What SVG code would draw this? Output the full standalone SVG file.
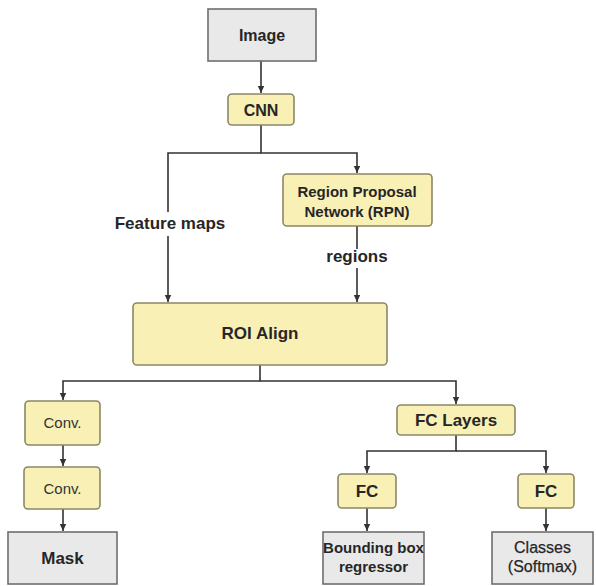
<svg xmlns="http://www.w3.org/2000/svg" width="596" height="586" viewBox="0 0 596 586">
<style>
.y{fill:#f9f0b6;stroke:#8c8766;stroke-width:1.6}
.g{fill:#e9e9e9;stroke:#6e6e6e;stroke-width:1.6}
.t{font-family:"Liberation Sans",Arial,sans-serif;font-weight:bold;fill:#262626;text-anchor:middle}
.n{font-weight:normal;stroke:#262626;stroke-width:0.25}
.r{font-weight:normal;fill:#333}
.c{fill:none;stroke:#333;stroke-width:1.6}
</style>
<defs>
<marker id="a" markerUnits="userSpaceOnUse" markerWidth="8" markerHeight="8" refX="7" refY="4" orient="auto">
<path d="M0,0.8 L7,4 L0,7.2 z" fill="#333"/>
</marker>
</defs>
<rect width="596" height="586" fill="#fff"/>
<g id="connectors">
<path class="c" d="M261,61 V93" marker-end="url(#a)"/>
<path class="c" d="M261,125 V153 H357 V173" marker-end="url(#a)"/>
<path class="c" d="M261,153 H168 V212"/>
<path class="c" d="M168,236 V302" marker-end="url(#a)"/>
<path class="c" d="M357,226 V249"/>
<path class="c" d="M357,268 V302" marker-end="url(#a)"/>
<path class="c" d="M260,365 V381 H63 V400" marker-end="url(#a)"/>
<path class="c" d="M260,381 H456 V404" marker-end="url(#a)"/>
<path class="c" d="M63,445 V466" marker-end="url(#a)"/>
<path class="c" d="M63,509 V531" marker-end="url(#a)"/>
<path class="c" d="M456,435 V451 H367 V473" marker-end="url(#a)"/>
<path class="c" d="M456,451 H546 V473" marker-end="url(#a)"/>
<path class="c" d="M367,508 V531" marker-end="url(#a)"/>
<path class="c" d="M546,508 V531" marker-end="url(#a)"/>
<text class="t" x="170" y="229" font-size="17">Feature maps</text>
<text class="t" x="357" y="262" font-size="17">regions</text>
</g>
<g id="image"><rect class="g" x="208" y="9" width="108" height="52"/><text class="t" x="262" y="41" font-size="16">Image</text></g>
<g id="cnn"><rect class="y" x="228" y="94" width="66" height="31" rx="4"/><text class="t" x="261" y="116" font-size="16">CNN</text></g>
<g id="rpn"><rect class="y" x="283" y="174" width="149" height="52" rx="4"/><text class="t" x="357" y="197" font-size="15">Region Proposal</text><text class="t" x="357" y="217" font-size="15">Network (RPN)</text></g>
<g id="roi"><rect class="y" x="133" y="303" width="254" height="62" rx="4"/><text class="t" x="260" y="339" font-size="17">ROI Align</text></g>
<g id="conv1"><rect class="y" x="25" y="401" width="75" height="44" rx="4"/><text class="t r" x="62.5" y="428" font-size="15">Conv.</text></g>
<g id="conv2"><rect class="y" x="24" y="467" width="76" height="42" rx="4"/><text class="t r" x="62.5" y="494" font-size="15">Conv.</text></g>
<g id="mask"><rect class="g" x="8" y="532" width="109" height="52"/><text class="t" x="62.5" y="564" font-size="17">Mask</text></g>
<g id="fclayers"><rect class="y" x="397" y="405" width="118" height="30" rx="4"/><text class="t" x="456" y="426" font-size="17">FC Layers</text></g>
<g id="fc1"><rect class="y" x="338" y="474" width="58" height="34" rx="4"/><text class="t" x="367" y="497" font-size="17">FC</text></g>
<g id="fc2"><rect class="y" x="518" y="474" width="56" height="34" rx="4"/><text class="t" x="546" y="497" font-size="17">FC</text></g>
<g id="bbox"><rect class="g" x="323" y="532" width="101" height="52"/><text class="t" x="373.5" y="553" font-size="15">Bounding box</text><text class="t" x="373.5" y="572" font-size="15">regressor</text></g>
<g id="classes"><rect class="g" x="492" y="532" width="101" height="52"/><text class="t n" x="542.5" y="553" font-size="16">Classes</text><text class="t n" x="542.5" y="572" font-size="16">(Softmax)</text></g>
</svg>
